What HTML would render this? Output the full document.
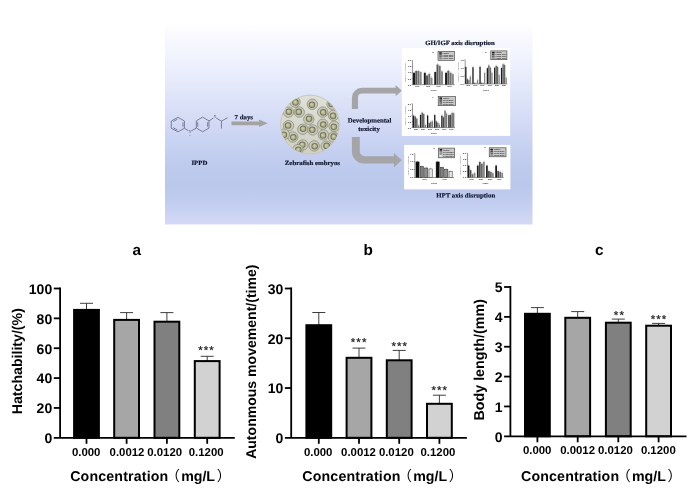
<!DOCTYPE html>
<html lang="en"><head><meta charset="utf-8"><title>IPPD developmental toxicity in zebrafish embryos</title>
<style>
html,body{margin:0;padding:0;background:#fff;}
body{width:692px;height:491px;overflow:hidden;}
svg{display:block;font-family:"Liberation Sans", "Noto Sans CJK SC", sans-serif;}
</style></head><body>
<svg width="692" height="491" viewBox="0 0 692 491">
<defs>
<linearGradient id="bg" x1="0" y1="0" x2="0" y2="1">
<stop offset="0" stop-color="#fefdff"/>
<stop offset="0.18" stop-color="#eff2fd"/>
<stop offset="0.35" stop-color="#dfe5f9"/>
<stop offset="0.55" stop-color="#ccd5f3"/>
<stop offset="0.72" stop-color="#bdcaed"/>
<stop offset="0.81" stop-color="#bac8ec"/>
<stop offset="0.9" stop-color="#c3cef0"/>
<stop offset="1" stop-color="#d5daf5"/>
</linearGradient>
<linearGradient id="dishg" x1="0" y1="0" x2="0" y2="1"><stop offset="0" stop-color="#dfe0d8"/><stop offset="1" stop-color="#cfd0c4"/></linearGradient>
<clipPath id="dishclip"><circle cx="310.0" cy="124.6" r="29.2"/></clipPath>

<filter id="soft" x="-2%" y="-2%" width="104%" height="104%"><feGaussianBlur stdDeviation="0.3"/></filter>
</defs>
<rect width="692" height="491" fill="#fff"/>
<g filter="url(#soft)">
<rect x="165.0" y="25.0" width="367.5" height="199.5" fill="url(#bg)"/>
<path d="M177.94 117.34 L184.41 120.98 L184.41 128.27 L177.94 131.81 L171.26 128.27 L171.26 120.98ZM182.97 122.35L182.97 126.89M177.40 129.95L173.23 127.74M173.23 121.50L177.40 119.22M202.62 117.14 L208.99 120.88 L208.99 128.06 L202.62 131.81 L196.35 128.06 L196.35 120.88ZM207.60 122.23L207.60 126.71M197.73 126.71L197.73 122.23M184.41 128.27L188.46 130.69M191.29 130.90L196.35 128.06M208.99 120.88L213.54 117.95M216.17 117.95L221.43 121.18M221.43 121.18L227.70 117.64M221.43 121.18L221.43 128.47" stroke="#6b6e84" stroke-width="0.85" fill="none" stroke-linejoin="round"/>
<text x="189.87" y="133.11" font-size="3.2" text-anchor="middle" fill="#5a5d72" font-family='"Liberation Serif", serif'>N</text>
<text x="189.87" y="135.51" font-size="2.6" text-anchor="middle" fill="#5a5d72" font-family='"Liberation Serif", serif'>H</text>
<text x="214.86" y="118.34" font-size="3.2" text-anchor="middle" fill="#5a5d72" font-family='"Liberation Serif", serif'>N</text>
<text x="214.86" y="115.74" font-size="2.6" text-anchor="middle" fill="#5a5d72" font-family='"Liberation Serif", serif'>H</text>
<path d="M231.5 121.5H259V119.6L267.7 123.3L259 127V125.2H231.5Z" fill="#a3a3a3"/>
<path d="M351.9 108.9V97.8a10 10 0 0 1 10 -10H395.6V85.1L401.8 90.7L395.6 96.3V93.6H362a4 4 0 0 0 -4 4V108.9Z" fill="#a5a5a8"/>
<path d="M351.9 136.9V151.6a12 12 0 0 0 12 12H393.9V167.5L401.6 160.2L393.9 152.9V156.3H364.8a5 5 0 0 1 -5 -5V136.9Z" fill="#a5a5a8"/>
<circle cx="310.0" cy="124.6" r="29.8" fill="url(#dishg)"/>
<circle cx="310.0" cy="124.6" r="29.400000000000002" fill="none" stroke="#c3c4b6" stroke-width="0.8"/>
<g clip-path="url(#dishclip)"><circle cx="294.96" cy="102.12" r="5.2" fill="#c8c9ba" stroke="#8e8f7b" stroke-width="0.8"/><circle cx="295.46" cy="102.42" r="3.3" fill="#74755b"/><circle cx="295.46" cy="102.42" r="2.3" fill="#b2b38a"/><circle cx="295.06" cy="102.02" r="1.2" fill="#cbcca6"/><circle cx="312.35" cy="104.26" r="5.2" fill="#c8c9ba" stroke="#8e8f7b" stroke-width="0.8"/><circle cx="311.95" cy="104.76" r="3.3" fill="#74755b"/><circle cx="311.95" cy="104.76" r="2.3" fill="#b2b38a"/><circle cx="311.55" cy="104.36" r="1.2" fill="#cbcca6"/><circle cx="288.54" cy="112.10" r="5.2" fill="#c8c9ba" stroke="#8e8f7b" stroke-width="0.8"/><circle cx="288.84" cy="111.70" r="3.3" fill="#74755b"/><circle cx="288.84" cy="111.70" r="2.3" fill="#b2b38a"/><circle cx="288.44" cy="111.30" r="1.2" fill="#cbcca6"/><circle cx="299.24" cy="112.10" r="5.2" fill="#c8c9ba" stroke="#8e8f7b" stroke-width="0.8"/><circle cx="298.74" cy="111.90" r="3.3" fill="#74755b"/><circle cx="298.74" cy="111.90" r="2.3" fill="#b2b38a"/><circle cx="298.34" cy="111.50" r="1.2" fill="#cbcca6"/><circle cx="322.76" cy="112.10" r="5.2" fill="#c8c9ba" stroke="#8e8f7b" stroke-width="0.8"/><circle cx="323.26" cy="112.40" r="3.3" fill="#74755b"/><circle cx="323.26" cy="112.40" r="2.3" fill="#b2b38a"/><circle cx="322.86" cy="112.00" r="1.2" fill="#cbcca6"/><circle cx="333.45" cy="115.38" r="5.2" fill="#c8c9ba" stroke="#8e8f7b" stroke-width="0.8"/><circle cx="333.05" cy="115.88" r="3.3" fill="#74755b"/><circle cx="333.05" cy="115.88" r="2.3" fill="#b2b38a"/><circle cx="332.65" cy="115.48" r="1.2" fill="#cbcca6"/><circle cx="308.79" cy="119.23" r="5.2" fill="#c8c9ba" stroke="#8e8f7b" stroke-width="0.8"/><circle cx="309.09" cy="118.83" r="3.3" fill="#74755b"/><circle cx="309.09" cy="118.83" r="2.3" fill="#b2b38a"/><circle cx="308.69" cy="118.43" r="1.2" fill="#cbcca6"/><circle cx="288.54" cy="125.64" r="5.2" fill="#c8c9ba" stroke="#8e8f7b" stroke-width="0.8"/><circle cx="288.04" cy="125.44" r="3.3" fill="#74755b"/><circle cx="288.04" cy="125.44" r="2.3" fill="#b2b38a"/><circle cx="287.64" cy="125.04" r="1.2" fill="#cbcca6"/><circle cx="322.76" cy="124.22" r="5.2" fill="#c8c9ba" stroke="#8e8f7b" stroke-width="0.8"/><circle cx="323.26" cy="124.52" r="3.3" fill="#74755b"/><circle cx="323.26" cy="124.52" r="2.3" fill="#b2b38a"/><circle cx="322.86" cy="124.12" r="1.2" fill="#cbcca6"/><circle cx="334.17" cy="126.36" r="5.2" fill="#c8c9ba" stroke="#8e8f7b" stroke-width="0.8"/><circle cx="333.77" cy="126.86" r="3.3" fill="#74755b"/><circle cx="333.77" cy="126.86" r="2.3" fill="#b2b38a"/><circle cx="333.37" cy="126.46" r="1.2" fill="#cbcca6"/><circle cx="302.80" cy="129.21" r="5.2" fill="#c8c9ba" stroke="#8e8f7b" stroke-width="0.8"/><circle cx="303.10" cy="128.81" r="3.3" fill="#74755b"/><circle cx="303.10" cy="128.81" r="2.3" fill="#b2b38a"/><circle cx="302.70" cy="128.41" r="1.2" fill="#cbcca6"/><circle cx="312.78" cy="129.92" r="5.2" fill="#c8c9ba" stroke="#8e8f7b" stroke-width="0.8"/><circle cx="312.28" cy="129.72" r="3.3" fill="#74755b"/><circle cx="312.28" cy="129.72" r="2.3" fill="#b2b38a"/><circle cx="311.88" cy="129.32" r="1.2" fill="#cbcca6"/><circle cx="292.82" cy="137.05" r="5.2" fill="#c8c9ba" stroke="#8e8f7b" stroke-width="0.8"/><circle cx="293.32" cy="137.35" r="3.3" fill="#74755b"/><circle cx="293.32" cy="137.35" r="2.3" fill="#b2b38a"/><circle cx="292.92" cy="136.95" r="1.2" fill="#cbcca6"/><circle cx="323.47" cy="134.91" r="5.2" fill="#c8c9ba" stroke="#8e8f7b" stroke-width="0.8"/><circle cx="323.07" cy="135.41" r="3.3" fill="#74755b"/><circle cx="323.07" cy="135.41" r="2.3" fill="#b2b38a"/><circle cx="322.67" cy="135.01" r="1.2" fill="#cbcca6"/><circle cx="333.45" cy="137.05" r="5.2" fill="#c8c9ba" stroke="#8e8f7b" stroke-width="0.8"/><circle cx="333.75" cy="136.65" r="3.3" fill="#74755b"/><circle cx="333.75" cy="136.65" r="2.3" fill="#b2b38a"/><circle cx="333.35" cy="136.25" r="1.2" fill="#cbcca6"/><circle cx="302.80" cy="144.89" r="5.2" fill="#c8c9ba" stroke="#8e8f7b" stroke-width="0.8"/><circle cx="302.30" cy="144.69" r="3.3" fill="#74755b"/><circle cx="302.30" cy="144.69" r="2.3" fill="#b2b38a"/><circle cx="301.90" cy="144.29" r="1.2" fill="#cbcca6"/><circle cx="314.21" cy="145.89" r="5.2" fill="#c8c9ba" stroke="#8e8f7b" stroke-width="0.8"/><circle cx="314.71" cy="146.19" r="3.3" fill="#74755b"/><circle cx="314.71" cy="146.19" r="2.3" fill="#b2b38a"/><circle cx="314.31" cy="145.79" r="1.2" fill="#cbcca6"/><circle cx="284.27" cy="134.20" r="5.2" fill="#c8c9ba" stroke="#8e8f7b" stroke-width="0.8"/><circle cx="283.87" cy="134.70" r="3.3" fill="#74755b"/><circle cx="283.87" cy="134.70" r="2.3" fill="#b2b38a"/><circle cx="283.47" cy="134.30" r="1.2" fill="#cbcca6"/><circle cx="326.33" cy="146.32" r="5.2" fill="#c8c9ba" stroke="#8e8f7b" stroke-width="0.8"/><circle cx="326.63" cy="145.92" r="3.3" fill="#74755b"/><circle cx="326.63" cy="145.92" r="2.3" fill="#b2b38a"/><circle cx="326.23" cy="145.52" r="1.2" fill="#cbcca6"/><circle cx="332.03" cy="104.26" r="5.2" fill="#c8c9ba" stroke="#8e8f7b" stroke-width="0.8"/><circle cx="331.53" cy="104.06" r="3.3" fill="#74755b"/><circle cx="331.53" cy="104.06" r="2.3" fill="#b2b38a"/><circle cx="331.13" cy="103.66" r="1.2" fill="#cbcca6"/><circle cx="297.81" cy="149.60" r="5.2" fill="#c8c9ba" stroke="#8e8f7b" stroke-width="0.8"/><circle cx="298.31" cy="149.90" r="3.3" fill="#74755b"/><circle cx="298.31" cy="149.90" r="2.3" fill="#b2b38a"/><circle cx="297.91" cy="149.50" r="1.2" fill="#cbcca6"/></g>
<rect x="401.8" y="48.0" width="108.4" height="87.9" fill="#fff"/>
<rect x="404.1" y="144.9" width="106.3" height="44.5" fill="#fff"/>
<g font-family='"Liberation Sans", "Noto Sans CJK SC", sans-serif'><path d="M412.50 60.40V84.70H454.70" stroke="#333" stroke-width="0.5" fill="none"/><path d="M411.50 60.40H412.50" stroke="#333" stroke-width="0.4"/><text x="411.20" y="61.30" font-size="2.5" font-weight="700" text-anchor="end" fill="#3a3a3a">2.0</text><path d="M411.50 66.47H412.50" stroke="#333" stroke-width="0.4"/><text x="411.20" y="67.38" font-size="2.5" font-weight="700" text-anchor="end" fill="#3a3a3a">1.5</text><path d="M411.50 72.55H412.50" stroke="#333" stroke-width="0.4"/><text x="411.20" y="73.45" font-size="2.5" font-weight="700" text-anchor="end" fill="#3a3a3a">1.0</text><path d="M411.50 78.62H412.50" stroke="#333" stroke-width="0.4"/><text x="411.20" y="79.53" font-size="2.5" font-weight="700" text-anchor="end" fill="#3a3a3a">0.5</text><path d="M411.50 84.70H412.50" stroke="#333" stroke-width="0.4"/><text x="411.20" y="85.60" font-size="2.5" font-weight="700" text-anchor="end" fill="#3a3a3a">0.0</text><rect x="413.00" y="72.75" width="2.00" height="11.95" fill="#1c1c1c" stroke="#1a1a1a" stroke-width="0"/><path d="M414.00 72.75v-1.3" stroke="#555" stroke-width="0.3"/><rect x="415.22" y="70.91" width="2.00" height="13.79" fill="#5a5a5a" stroke="#1a1a1a" stroke-width="0"/><path d="M416.22 70.91v-1.3" stroke="#555" stroke-width="0.3"/><rect x="417.44" y="70.91" width="2.00" height="13.79" fill="#707070" stroke="#1a1a1a" stroke-width="0"/><path d="M418.44 70.91v-1.3" stroke="#555" stroke-width="0.3"/><rect x="419.67" y="72.01" width="2.00" height="12.69" fill="#888888" stroke="#1a1a1a" stroke-width="0"/><path d="M420.67 72.01v-1.3" stroke="#555" stroke-width="0.3"/><text x="417.44" y="86.90" font-size="1.8" font-weight="700" text-anchor="middle" fill="#222">gene</text><rect x="423.81" y="72.75" width="2.00" height="11.95" fill="#1c1c1c" stroke="#1a1a1a" stroke-width="0"/><path d="M424.82 72.75v-1.3" stroke="#555" stroke-width="0.3"/><rect x="426.04" y="75.50" width="2.00" height="9.20" fill="#5a5a5a" stroke="#1a1a1a" stroke-width="0"/><path d="M427.04 75.50v-1.3" stroke="#555" stroke-width="0.3"/><rect x="428.26" y="73.85" width="2.00" height="10.85" fill="#707070" stroke="#1a1a1a" stroke-width="0"/><path d="M429.26 73.85v-1.3" stroke="#555" stroke-width="0.3"/><rect x="430.48" y="77.79" width="2.00" height="6.91" fill="#888888" stroke="#1a1a1a" stroke-width="0"/><path d="M431.48 77.79v-1.3" stroke="#555" stroke-width="0.3"/><text x="428.26" y="86.90" font-size="1.8" font-weight="700" text-anchor="middle" fill="#222">gene</text><rect x="434.26" y="72.01" width="2.00" height="12.69" fill="#1c1c1c" stroke="#1a1a1a" stroke-width="0"/><path d="M435.26 72.01v-1.3" stroke="#555" stroke-width="0.3"/><rect x="436.49" y="64.50" width="2.00" height="20.20" fill="#5a5a5a" stroke="#1a1a1a" stroke-width="0"/><path d="M437.49 64.50v-1.3" stroke="#555" stroke-width="0.3"/><rect x="438.71" y="65.87" width="2.00" height="18.83" fill="#707070" stroke="#1a1a1a" stroke-width="0"/><path d="M439.71 65.87v-1.3" stroke="#555" stroke-width="0.3"/><rect x="440.93" y="71.37" width="2.00" height="13.33" fill="#888888" stroke="#1a1a1a" stroke-width="0"/><path d="M441.93 71.37v-1.3" stroke="#555" stroke-width="0.3"/><text x="438.71" y="86.90" font-size="1.8" font-weight="700" text-anchor="middle" fill="#222">gene</text><rect x="445.08" y="72.75" width="2.02" height="11.95" fill="#1c1c1c" stroke="#1a1a1a" stroke-width="0"/><path d="M446.09 72.75v-1.3" stroke="#555" stroke-width="0.3"/><rect x="447.33" y="70.73" width="2.02" height="13.97" fill="#5a5a5a" stroke="#1a1a1a" stroke-width="0"/><path d="M448.34 70.73v-1.3" stroke="#555" stroke-width="0.3"/><rect x="449.57" y="72.75" width="2.02" height="11.95" fill="#707070" stroke="#1a1a1a" stroke-width="0"/><path d="M450.58 72.75v-1.3" stroke="#555" stroke-width="0.3"/><rect x="451.82" y="74.12" width="2.02" height="10.58" fill="#888888" stroke="#1a1a1a" stroke-width="0"/><path d="M452.83 74.12v-1.3" stroke="#555" stroke-width="0.3"/><text x="449.57" y="86.90" font-size="1.8" font-weight="700" text-anchor="middle" fill="#222">gene</text><rect x="438.00" y="51.30" width="16.40" height="9.00" fill="#c9c9c9" stroke="#3a3a3a" stroke-width="0.6"/><rect x="439.20" y="52.30" width="2.6" height="1.5" fill="#1c1c1c"/><text x="442.60" y="53.70" font-size="1.9" font-weight="700" fill="#333">control</text><rect x="439.20" y="54.15" width="2.6" height="1.5" fill="#5a5a5a"/><text x="442.60" y="55.55" font-size="1.9" font-weight="700" fill="#333">0.0012 mg/L</text><rect x="439.20" y="56.00" width="2.6" height="1.5" fill="#707070"/><text x="442.60" y="57.40" font-size="1.9" font-weight="700" fill="#333">0.0120 mg/L</text><rect x="439.20" y="57.85" width="2.6" height="1.5" fill="#888888"/><text x="442.60" y="59.25" font-size="1.9" font-weight="700" fill="#333">0.1200 mg/L</text><text x="433.00" y="52.50" font-size="2.4" font-weight="700" text-anchor="middle" fill="#333">a</text><text x="433.60" y="90.50" font-size="1.9" font-weight="700" text-anchor="middle" fill="#222">Genes</text><text transform="translate(406.30 72.55) rotate(-90)" font-size="1.7" text-anchor="middle" fill="#777">Relative mRNA expression</text><path d="M465.20 59.90V83.90H507.40" stroke="#333" stroke-width="0.5" fill="none"/><path d="M464.20 59.90H465.20" stroke="#333" stroke-width="0.4"/><text x="463.90" y="60.80" font-size="2.5" font-weight="700" text-anchor="end" fill="#3a3a3a">1.5</text><path d="M464.20 67.90H465.20" stroke="#333" stroke-width="0.4"/><text x="463.90" y="68.80" font-size="2.5" font-weight="700" text-anchor="end" fill="#3a3a3a">1.0</text><path d="M464.20 75.90H465.20" stroke="#333" stroke-width="0.4"/><text x="463.90" y="76.80" font-size="2.5" font-weight="700" text-anchor="end" fill="#3a3a3a">0.5</text><path d="M464.20 83.90H465.20" stroke="#333" stroke-width="0.4"/><text x="463.90" y="84.80" font-size="2.5" font-weight="700" text-anchor="end" fill="#3a3a3a">0.0</text><rect x="465.17" y="67.07" width="1.32" height="16.83" fill="#1c1c1c" stroke="#1a1a1a" stroke-width="0"/><path d="M465.83 67.07v-1.3" stroke="#555" stroke-width="0.3"/><rect x="466.70" y="79.16" width="1.32" height="4.74" fill="#4c4c4c" stroke="#1a1a1a" stroke-width="0"/><path d="M467.36 79.16v-1.3" stroke="#555" stroke-width="0.3"/><rect x="468.24" y="80.08" width="1.32" height="3.82" fill="#666666" stroke="#1a1a1a" stroke-width="0"/><path d="M468.90 80.08v-1.3" stroke="#555" stroke-width="0.3"/><rect x="469.77" y="76.41" width="1.32" height="7.49" fill="#868686" stroke="#1a1a1a" stroke-width="0"/><path d="M470.43 76.41v-1.3" stroke="#555" stroke-width="0.3"/><text x="468.24" y="86.10" font-size="1.8" font-weight="700" text-anchor="middle" fill="#222">gene</text><rect x="472.32" y="67.25" width="1.32" height="16.65" fill="#1c1c1c" stroke="#1a1a1a" stroke-width="0"/><path d="M472.98 67.25v-1.3" stroke="#555" stroke-width="0.3"/><rect x="473.85" y="83.29" width="1.32" height="0.61" fill="#4c4c4c" stroke="#1a1a1a" stroke-width="0"/><path d="M474.51 83.29v-1.3" stroke="#555" stroke-width="0.3"/><rect x="475.39" y="83.29" width="1.32" height="0.61" fill="#666666" stroke="#1a1a1a" stroke-width="0"/><path d="M476.05 83.29v-1.3" stroke="#555" stroke-width="0.3"/><rect x="476.92" y="80.08" width="1.32" height="3.82" fill="#868686" stroke="#1a1a1a" stroke-width="0"/><path d="M477.58 80.08v-1.3" stroke="#555" stroke-width="0.3"/><text x="475.39" y="86.10" font-size="1.8" font-weight="700" text-anchor="middle" fill="#222">gene</text><rect x="479.37" y="66.79" width="1.32" height="17.11" fill="#1c1c1c" stroke="#1a1a1a" stroke-width="0"/><path d="M480.03 66.79v-1.3" stroke="#555" stroke-width="0.3"/><rect x="480.91" y="82.83" width="1.32" height="1.07" fill="#4c4c4c" stroke="#1a1a1a" stroke-width="0"/><path d="M481.57 82.83v-1.3" stroke="#555" stroke-width="0.3"/><rect x="482.44" y="83.29" width="1.32" height="0.61" fill="#666666" stroke="#1a1a1a" stroke-width="0"/><path d="M483.10 83.29v-1.3" stroke="#555" stroke-width="0.3"/><rect x="483.98" y="72.75" width="1.32" height="11.15" fill="#868686" stroke="#1a1a1a" stroke-width="0"/><path d="M484.64 72.75v-1.3" stroke="#555" stroke-width="0.3"/><text x="482.44" y="86.10" font-size="1.8" font-weight="700" text-anchor="middle" fill="#222">gene</text><rect x="486.71" y="68.16" width="1.32" height="15.74" fill="#1c1c1c" stroke="#1a1a1a" stroke-width="0"/><path d="M487.37 68.16v-1.3" stroke="#555" stroke-width="0.3"/><rect x="488.24" y="65.42" width="1.32" height="18.48" fill="#4c4c4c" stroke="#1a1a1a" stroke-width="0"/><path d="M488.90 65.42v-1.3" stroke="#555" stroke-width="0.3"/><rect x="489.78" y="67.71" width="1.32" height="16.19" fill="#666666" stroke="#1a1a1a" stroke-width="0"/><path d="M490.44 67.71v-1.3" stroke="#555" stroke-width="0.3"/><rect x="491.31" y="72.75" width="1.32" height="11.15" fill="#868686" stroke="#1a1a1a" stroke-width="0"/><path d="M491.97 72.75v-1.3" stroke="#555" stroke-width="0.3"/><text x="489.78" y="86.10" font-size="1.8" font-weight="700" text-anchor="middle" fill="#222">gene</text><rect x="494.04" y="67.71" width="1.28" height="16.19" fill="#1c1c1c" stroke="#1a1a1a" stroke-width="0"/><path d="M494.68 67.71v-1.3" stroke="#555" stroke-width="0.3"/><rect x="495.53" y="65.87" width="1.28" height="18.03" fill="#4c4c4c" stroke="#1a1a1a" stroke-width="0"/><path d="M496.17 65.87v-1.3" stroke="#555" stroke-width="0.3"/><rect x="497.02" y="66.79" width="1.28" height="17.11" fill="#666666" stroke="#1a1a1a" stroke-width="0"/><path d="M497.66 66.79v-1.3" stroke="#555" stroke-width="0.3"/><rect x="498.51" y="75.04" width="1.28" height="8.86" fill="#868686" stroke="#1a1a1a" stroke-width="0"/><path d="M499.15 75.04v-1.3" stroke="#555" stroke-width="0.3"/><text x="497.02" y="86.10" font-size="1.8" font-weight="700" text-anchor="middle" fill="#222">gene</text><rect x="500.91" y="67.98" width="1.32" height="15.92" fill="#1c1c1c" stroke="#1a1a1a" stroke-width="0"/><path d="M501.57 67.98v-1.3" stroke="#555" stroke-width="0.3"/><rect x="502.45" y="64.32" width="1.32" height="19.58" fill="#4c4c4c" stroke="#1a1a1a" stroke-width="0"/><path d="M503.11 64.32v-1.3" stroke="#555" stroke-width="0.3"/><rect x="503.98" y="64.96" width="1.32" height="18.94" fill="#666666" stroke="#1a1a1a" stroke-width="0"/><path d="M504.64 64.96v-1.3" stroke="#555" stroke-width="0.3"/><rect x="505.52" y="77.79" width="1.32" height="6.11" fill="#868686" stroke="#1a1a1a" stroke-width="0"/><path d="M506.18 77.79v-1.3" stroke="#555" stroke-width="0.3"/><text x="503.98" y="86.10" font-size="1.8" font-weight="700" text-anchor="middle" fill="#222">gene</text><rect x="490.80" y="50.90" width="16.10" height="8.80" fill="#c9c9c9" stroke="#3a3a3a" stroke-width="0.6"/><rect x="492.00" y="51.90" width="2.6" height="1.5" fill="#1c1c1c"/><text x="495.40" y="53.30" font-size="1.9" font-weight="700" fill="#333">control</text><rect x="492.00" y="53.70" width="2.6" height="1.5" fill="#4c4c4c"/><text x="495.40" y="55.10" font-size="1.9" font-weight="700" fill="#333">0.0012 mg/L</text><rect x="492.00" y="55.50" width="2.6" height="1.5" fill="#666666"/><text x="495.40" y="56.90" font-size="1.9" font-weight="700" fill="#333">0.0120 mg/L</text><rect x="492.00" y="57.30" width="2.6" height="1.5" fill="#868686"/><text x="495.40" y="58.70" font-size="1.9" font-weight="700" fill="#333">0.1200 mg/L</text><text x="485.80" y="52.50" font-size="2.4" font-weight="700" text-anchor="middle" fill="#333">b</text><text x="485.80" y="90.50" font-size="1.9" font-weight="700" text-anchor="middle" fill="#222">Genes</text><text transform="translate(459.00 71.90) rotate(-90)" font-size="1.7" text-anchor="middle" fill="#777">Relative mRNA expression</text><path d="M412.50 103.70V127.60H455.00" stroke="#333" stroke-width="0.5" fill="none"/><path d="M411.50 103.70H412.50" stroke="#333" stroke-width="0.4"/><text x="411.20" y="104.60" font-size="2.5" font-weight="700" text-anchor="end" fill="#3a3a3a">2.0</text><path d="M411.50 109.67H412.50" stroke="#333" stroke-width="0.4"/><text x="411.20" y="110.58" font-size="2.5" font-weight="700" text-anchor="end" fill="#3a3a3a">1.5</text><path d="M411.50 115.65H412.50" stroke="#333" stroke-width="0.4"/><text x="411.20" y="116.55" font-size="2.5" font-weight="700" text-anchor="end" fill="#3a3a3a">1.0</text><path d="M411.50 121.62H412.50" stroke="#333" stroke-width="0.4"/><text x="411.20" y="122.53" font-size="2.5" font-weight="700" text-anchor="end" fill="#3a3a3a">0.5</text><path d="M411.50 127.60H412.50" stroke="#333" stroke-width="0.4"/><text x="411.20" y="128.50" font-size="2.5" font-weight="700" text-anchor="end" fill="#3a3a3a">0.0</text><rect x="412.82" y="115.65" width="1.42" height="11.95" fill="#1c1c1c" stroke="#1a1a1a" stroke-width="0"/><path d="M413.53 115.65v-1.3" stroke="#555" stroke-width="0.3"/><rect x="414.47" y="116.56" width="1.42" height="11.04" fill="#484848" stroke="#1a1a1a" stroke-width="0"/><path d="M415.18 116.56v-1.3" stroke="#555" stroke-width="0.3"/><rect x="416.12" y="118.58" width="1.42" height="9.02" fill="#5e5e5e" stroke="#1a1a1a" stroke-width="0"/><path d="M416.82 118.58v-1.3" stroke="#555" stroke-width="0.3"/><rect x="417.77" y="125.46" width="1.42" height="2.14" fill="#7a7a7a" stroke="#1a1a1a" stroke-width="0"/><path d="M418.47 125.46v-1.3" stroke="#555" stroke-width="0.3"/><text x="416.12" y="129.80" font-size="1.8" font-weight="700" text-anchor="middle" fill="#222">gene</text><rect x="419.87" y="114.91" width="1.38" height="12.69" fill="#1c1c1c" stroke="#1a1a1a" stroke-width="0"/><path d="M420.56 114.91v-1.3" stroke="#555" stroke-width="0.3"/><rect x="421.48" y="112.62" width="1.38" height="14.98" fill="#484848" stroke="#1a1a1a" stroke-width="0"/><path d="M422.17 112.62v-1.3" stroke="#555" stroke-width="0.3"/><rect x="423.08" y="114.00" width="1.38" height="13.60" fill="#5e5e5e" stroke="#1a1a1a" stroke-width="0"/><path d="M423.77 114.00v-1.3" stroke="#555" stroke-width="0.3"/><rect x="424.69" y="125.00" width="1.38" height="2.60" fill="#7a7a7a" stroke="#1a1a1a" stroke-width="0"/><path d="M425.38 125.00v-1.3" stroke="#555" stroke-width="0.3"/><text x="423.08" y="129.80" font-size="1.8" font-weight="700" text-anchor="middle" fill="#222">gene</text><rect x="426.93" y="115.37" width="1.38" height="12.23" fill="#1c1c1c" stroke="#1a1a1a" stroke-width="0"/><path d="M427.62 115.37v-1.3" stroke="#555" stroke-width="0.3"/><rect x="428.54" y="123.16" width="1.38" height="4.44" fill="#484848" stroke="#1a1a1a" stroke-width="0"/><path d="M429.23 123.16v-1.3" stroke="#555" stroke-width="0.3"/><rect x="430.14" y="121.79" width="1.38" height="5.81" fill="#5e5e5e" stroke="#1a1a1a" stroke-width="0"/><path d="M430.83 121.79v-1.3" stroke="#555" stroke-width="0.3"/><rect x="431.74" y="121.33" width="1.38" height="6.27" fill="#7a7a7a" stroke="#1a1a1a" stroke-width="0"/><path d="M432.43 121.33v-1.3" stroke="#555" stroke-width="0.3"/><text x="430.14" y="129.80" font-size="1.8" font-weight="700" text-anchor="middle" fill="#222">gene</text><rect x="434.08" y="114.91" width="1.34" height="12.69" fill="#1c1c1c" stroke="#1a1a1a" stroke-width="0"/><path d="M434.75 114.91v-1.3" stroke="#555" stroke-width="0.3"/><rect x="435.64" y="121.33" width="1.34" height="6.27" fill="#484848" stroke="#1a1a1a" stroke-width="0"/><path d="M436.31 121.33v-1.3" stroke="#555" stroke-width="0.3"/><rect x="437.20" y="122.71" width="1.34" height="4.89" fill="#5e5e5e" stroke="#1a1a1a" stroke-width="0"/><path d="M437.87 122.71v-1.3" stroke="#555" stroke-width="0.3"/><rect x="438.76" y="124.54" width="1.34" height="3.06" fill="#7a7a7a" stroke="#1a1a1a" stroke-width="0"/><path d="M439.43 124.54v-1.3" stroke="#555" stroke-width="0.3"/><text x="437.20" y="129.80" font-size="1.8" font-weight="700" text-anchor="middle" fill="#222">gene</text><rect x="441.23" y="115.65" width="1.34" height="11.95" fill="#1c1c1c" stroke="#1a1a1a" stroke-width="0"/><path d="M441.90 115.65v-1.3" stroke="#555" stroke-width="0.3"/><rect x="442.79" y="117.21" width="1.34" height="10.39" fill="#484848" stroke="#1a1a1a" stroke-width="0"/><path d="M443.46 117.21v-1.3" stroke="#555" stroke-width="0.3"/><rect x="444.35" y="110.79" width="1.34" height="16.81" fill="#5e5e5e" stroke="#1a1a1a" stroke-width="0"/><path d="M445.02 110.79v-1.3" stroke="#555" stroke-width="0.3"/><rect x="445.90" y="113.54" width="1.34" height="14.06" fill="#7a7a7a" stroke="#1a1a1a" stroke-width="0"/><path d="M446.57 113.54v-1.3" stroke="#555" stroke-width="0.3"/><text x="444.35" y="129.80" font-size="1.8" font-weight="700" text-anchor="middle" fill="#222">gene</text><rect x="448.29" y="115.10" width="1.36" height="12.50" fill="#1c1c1c" stroke="#1a1a1a" stroke-width="0"/><path d="M448.97 115.10v-1.3" stroke="#555" stroke-width="0.3"/><rect x="449.87" y="114.91" width="1.36" height="12.69" fill="#484848" stroke="#1a1a1a" stroke-width="0"/><path d="M450.55 114.91v-1.3" stroke="#555" stroke-width="0.3"/><rect x="451.45" y="112.90" width="1.36" height="14.70" fill="#5e5e5e" stroke="#1a1a1a" stroke-width="0"/><path d="M452.13 112.90v-1.3" stroke="#555" stroke-width="0.3"/><rect x="453.03" y="113.08" width="1.36" height="14.52" fill="#7a7a7a" stroke="#1a1a1a" stroke-width="0"/><path d="M453.71 113.08v-1.3" stroke="#555" stroke-width="0.3"/><text x="451.45" y="129.80" font-size="1.8" font-weight="700" text-anchor="middle" fill="#222">gene</text><rect x="438.20" y="96.40" width="17.40" height="9.30" fill="#c9c9c9" stroke="#3a3a3a" stroke-width="0.6"/><rect x="439.40" y="97.40" width="2.6" height="1.5" fill="#1c1c1c"/><text x="442.80" y="98.80" font-size="1.9" font-weight="700" fill="#333">control</text><rect x="439.40" y="99.33" width="2.6" height="1.5" fill="#484848"/><text x="442.80" y="100.73" font-size="1.9" font-weight="700" fill="#333">0.0012 mg/L</text><rect x="439.40" y="101.25" width="2.6" height="1.5" fill="#5e5e5e"/><text x="442.80" y="102.65" font-size="1.9" font-weight="700" fill="#333">0.0120 mg/L</text><rect x="439.40" y="103.18" width="2.6" height="1.5" fill="#7a7a7a"/><text x="442.80" y="104.58" font-size="1.9" font-weight="700" fill="#333">0.1200 mg/L</text><text x="433.00" y="98.10" font-size="2.4" font-weight="700" text-anchor="middle" fill="#333">c</text><text x="433.60" y="134.00" font-size="1.9" font-weight="700" text-anchor="middle" fill="#222">Genes</text><text transform="translate(406.30 115.65) rotate(-90)" font-size="1.7" text-anchor="middle" fill="#777">Relative mRNA expression</text><path d="M414.80 153.60V177.50H454.00" stroke="#333" stroke-width="0.5" fill="none"/><path d="M413.80 153.60H414.80" stroke="#333" stroke-width="0.4"/><text x="413.50" y="154.50" font-size="2.5" font-weight="700" text-anchor="end" fill="#3a3a3a">1.5</text><path d="M413.80 161.57H414.80" stroke="#333" stroke-width="0.4"/><text x="413.50" y="162.47" font-size="2.5" font-weight="700" text-anchor="end" fill="#3a3a3a">1.0</text><path d="M413.80 169.53H414.80" stroke="#333" stroke-width="0.4"/><text x="413.50" y="170.43" font-size="2.5" font-weight="700" text-anchor="end" fill="#3a3a3a">0.5</text><path d="M413.80 177.50H414.80" stroke="#333" stroke-width="0.4"/><text x="413.50" y="178.40" font-size="2.5" font-weight="700" text-anchor="end" fill="#3a3a3a">0.0</text><rect x="415.92" y="161.87" width="3.22" height="15.63" fill="#0a0a0a" stroke="#1a1a1a" stroke-width="0.45"/><path d="M417.53 161.87v-1.3" stroke="#555" stroke-width="0.3"/><rect x="420.27" y="166.46" width="3.22" height="11.04" fill="#7e7e7e" stroke="#1a1a1a" stroke-width="0.45"/><path d="M421.88 166.46v-1.3" stroke="#555" stroke-width="0.3"/><rect x="424.62" y="168.01" width="3.22" height="9.49" fill="#8e8e8e" stroke="#1a1a1a" stroke-width="0.45"/><path d="M426.23 168.01v-1.3" stroke="#555" stroke-width="0.3"/><rect x="428.98" y="168.93" width="3.22" height="8.57" fill="#e6e6e6" stroke="#1a1a1a" stroke-width="0.45"/><path d="M430.59 168.93v-1.3" stroke="#555" stroke-width="0.3"/><text x="424.62" y="179.70" font-size="1.8" font-weight="700" text-anchor="middle" fill="#222">gene</text><rect x="436.08" y="161.87" width="3.19" height="15.63" fill="#0a0a0a" stroke="#1a1a1a" stroke-width="0.45"/><path d="M437.67 161.87v-1.3" stroke="#555" stroke-width="0.3"/><rect x="440.39" y="167.37" width="3.19" height="10.13" fill="#7e7e7e" stroke="#1a1a1a" stroke-width="0.45"/><path d="M441.98 167.37v-1.3" stroke="#555" stroke-width="0.3"/><rect x="444.70" y="169.21" width="3.19" height="8.29" fill="#8e8e8e" stroke="#1a1a1a" stroke-width="0.45"/><path d="M446.29 169.21v-1.3" stroke="#555" stroke-width="0.3"/><rect x="449.00" y="171.50" width="3.19" height="6.00" fill="#e6e6e6" stroke="#1a1a1a" stroke-width="0.45"/><path d="M450.60 171.50v-1.3" stroke="#555" stroke-width="0.3"/><text x="444.70" y="179.70" font-size="1.8" font-weight="700" text-anchor="middle" fill="#222">gene</text><rect x="438.40" y="148.10" width="16.30" height="9.70" fill="#c9c9c9" stroke="#3a3a3a" stroke-width="0.6"/><rect x="439.60" y="149.10" width="2.6" height="1.5" fill="#0a0a0a"/><text x="443.00" y="150.50" font-size="1.9" font-weight="700" fill="#333">control</text><rect x="439.60" y="151.12" width="2.6" height="1.5" fill="#7e7e7e"/><text x="443.00" y="152.53" font-size="1.9" font-weight="700" fill="#333">0.0012 mg/L</text><rect x="439.60" y="153.15" width="2.6" height="1.5" fill="#8e8e8e"/><text x="443.00" y="154.55" font-size="1.9" font-weight="700" fill="#333">0.0120 mg/L</text><rect x="439.60" y="155.18" width="2.6" height="1.5" fill="#e6e6e6"/><text x="443.00" y="156.58" font-size="1.9" font-weight="700" fill="#333">0.1200 mg/L</text><text x="433.90" y="148.60" font-size="2.4" font-weight="700" text-anchor="middle" fill="#333">a</text><text x="433.90" y="184.10" font-size="1.9" font-weight="700" text-anchor="middle" fill="#222">Genes</text><text transform="translate(408.60 165.55) rotate(-90)" font-size="1.7" text-anchor="middle" fill="#777">Relative mRNA expression</text><path d="M467.50 153.20V177.50H503.70" stroke="#333" stroke-width="0.5" fill="none"/><path d="M466.50 153.20H467.50" stroke="#333" stroke-width="0.4"/><text x="466.20" y="154.10" font-size="2.5" font-weight="700" text-anchor="end" fill="#3a3a3a">2.0</text><path d="M466.50 159.27H467.50" stroke="#333" stroke-width="0.4"/><text x="466.20" y="160.17" font-size="2.5" font-weight="700" text-anchor="end" fill="#3a3a3a">1.5</text><path d="M466.50 165.35H467.50" stroke="#333" stroke-width="0.4"/><text x="466.20" y="166.25" font-size="2.5" font-weight="700" text-anchor="end" fill="#3a3a3a">1.0</text><path d="M466.50 171.43H467.50" stroke="#333" stroke-width="0.4"/><text x="466.20" y="172.33" font-size="2.5" font-weight="700" text-anchor="end" fill="#3a3a3a">0.5</text><path d="M466.50 177.50H467.50" stroke="#333" stroke-width="0.4"/><text x="466.20" y="178.40" font-size="2.5" font-weight="700" text-anchor="end" fill="#3a3a3a">0.0</text><rect x="467.73" y="165.54" width="1.71" height="11.96" fill="#1c1c1c" stroke="#1a1a1a" stroke-width="0"/><path d="M468.59 165.54v-1.3" stroke="#555" stroke-width="0.3"/><rect x="469.73" y="170.12" width="1.71" height="7.38" fill="#4c4c4c" stroke="#1a1a1a" stroke-width="0"/><path d="M470.58 170.12v-1.3" stroke="#555" stroke-width="0.3"/><rect x="471.72" y="174.25" width="1.71" height="3.25" fill="#666666" stroke="#1a1a1a" stroke-width="0"/><path d="M472.58 174.25v-1.3" stroke="#555" stroke-width="0.3"/><rect x="473.71" y="172.87" width="1.71" height="4.63" fill="#868686" stroke="#1a1a1a" stroke-width="0"/><path d="M474.57 172.87v-1.3" stroke="#555" stroke-width="0.3"/><text x="471.72" y="179.70" font-size="1.8" font-weight="700" text-anchor="middle" fill="#222">gene</text><rect x="476.90" y="165.54" width="1.75" height="11.96" fill="#1c1c1c" stroke="#1a1a1a" stroke-width="0"/><path d="M477.78 165.54v-1.3" stroke="#555" stroke-width="0.3"/><rect x="478.94" y="161.87" width="1.75" height="15.63" fill="#4c4c4c" stroke="#1a1a1a" stroke-width="0"/><path d="M479.81 161.87v-1.3" stroke="#555" stroke-width="0.3"/><rect x="480.98" y="163.71" width="1.75" height="13.79" fill="#666666" stroke="#1a1a1a" stroke-width="0"/><path d="M481.85 163.71v-1.3" stroke="#555" stroke-width="0.3"/><rect x="483.02" y="161.87" width="1.75" height="15.63" fill="#868686" stroke="#1a1a1a" stroke-width="0"/><path d="M483.89 161.87v-1.3" stroke="#555" stroke-width="0.3"/><text x="480.98" y="179.70" font-size="1.8" font-weight="700" text-anchor="middle" fill="#222">gene</text><rect x="486.06" y="165.54" width="1.71" height="11.96" fill="#1c1c1c" stroke="#1a1a1a" stroke-width="0"/><path d="M486.92 165.54v-1.3" stroke="#555" stroke-width="0.3"/><rect x="488.06" y="171.04" width="1.71" height="6.46" fill="#4c4c4c" stroke="#1a1a1a" stroke-width="0"/><path d="M488.91 171.04v-1.3" stroke="#555" stroke-width="0.3"/><rect x="490.05" y="171.96" width="1.71" height="5.54" fill="#666666" stroke="#1a1a1a" stroke-width="0"/><path d="M490.91 171.96v-1.3" stroke="#555" stroke-width="0.3"/><rect x="492.04" y="173.15" width="1.71" height="4.35" fill="#868686" stroke="#1a1a1a" stroke-width="0"/><path d="M492.90 173.15v-1.3" stroke="#555" stroke-width="0.3"/><text x="490.05" y="179.70" font-size="1.8" font-weight="700" text-anchor="middle" fill="#222">gene</text><rect x="495.23" y="165.54" width="1.75" height="11.96" fill="#1c1c1c" stroke="#1a1a1a" stroke-width="0"/><path d="M496.11 165.54v-1.3" stroke="#555" stroke-width="0.3"/><rect x="497.27" y="171.04" width="1.75" height="6.46" fill="#4c4c4c" stroke="#1a1a1a" stroke-width="0"/><path d="M498.15 171.04v-1.3" stroke="#555" stroke-width="0.3"/><rect x="499.31" y="171.96" width="1.75" height="5.54" fill="#666666" stroke="#1a1a1a" stroke-width="0"/><path d="M500.19 171.96v-1.3" stroke="#555" stroke-width="0.3"/><rect x="501.35" y="172.87" width="1.75" height="4.63" fill="#868686" stroke="#1a1a1a" stroke-width="0"/><path d="M502.23 172.87v-1.3" stroke="#555" stroke-width="0.3"/><text x="499.31" y="179.70" font-size="1.8" font-weight="700" text-anchor="middle" fill="#222">gene</text><rect x="489.20" y="147.80" width="16.80" height="9.00" fill="#c9c9c9" stroke="#3a3a3a" stroke-width="0.6"/><rect x="490.40" y="148.80" width="2.6" height="1.5" fill="#1c1c1c"/><text x="493.80" y="150.20" font-size="1.9" font-weight="700" fill="#333">control</text><rect x="490.40" y="150.65" width="2.6" height="1.5" fill="#4c4c4c"/><text x="493.80" y="152.05" font-size="1.9" font-weight="700" fill="#333">0.0012 mg/L</text><rect x="490.40" y="152.50" width="2.6" height="1.5" fill="#666666"/><text x="493.80" y="153.90" font-size="1.9" font-weight="700" fill="#333">0.0120 mg/L</text><rect x="490.40" y="154.35" width="2.6" height="1.5" fill="#868686"/><text x="493.80" y="155.75" font-size="1.9" font-weight="700" fill="#333">0.1200 mg/L</text><text x="485.10" y="148.30" font-size="2.4" font-weight="700" text-anchor="middle" fill="#333">b</text><text x="485.30" y="184.20" font-size="1.9" font-weight="700" text-anchor="middle" fill="#222">Genes</text><text transform="translate(461.30 165.35) rotate(-90)" font-size="1.7" text-anchor="middle" fill="#777">Relative mRNA expression</text></g>
</g>
<g>
<text transform="translate(199.40 165.10) rotate(0.04) scale(0.1250 0.1175)" font-size="54.8" font-weight="700" text-anchor="middle" fill="#10152e" stroke="#10152e" stroke-width="1.60" font-family='"Liberation Serif", serif'>IPPD</text>
<text transform="translate(243.80 119.30) rotate(0.04) scale(0.1250 0.1175)" font-size="54.8" font-weight="700" text-anchor="middle" fill="#10152e" stroke="#10152e" stroke-width="1.60" font-family='"Liberation Serif", serif'>7 days</text>
<text transform="translate(312.40 164.90) rotate(0.04) scale(0.1250 0.1175)" font-size="54.8" font-weight="700" text-anchor="middle" fill="#10152e" stroke="#10152e" stroke-width="1.60" font-family='"Liberation Serif", serif'>Zebrafish embryos</text>
<text transform="translate(369.60 122.50) rotate(0.04) scale(0.1250 0.1175)" font-size="54.8" font-weight="700" text-anchor="middle" fill="#10152e" stroke="#10152e" stroke-width="1.60" font-family='"Liberation Serif", serif'>Developmental</text>
<text transform="translate(369.00 131.00) rotate(0.04) scale(0.1250 0.1175)" font-size="54.8" font-weight="700" text-anchor="middle" fill="#10152e" stroke="#10152e" stroke-width="1.60" font-family='"Liberation Serif", serif'>toxicity</text>
<text transform="translate(460.00 45.00) rotate(0.04) scale(0.1250 0.1175)" font-size="54.8" font-weight="700" text-anchor="middle" fill="#10152e" stroke="#10152e" stroke-width="1.60" font-family='"Liberation Serif", serif'>GH/IGF axis disruption</text>
<text transform="translate(465.70 197.60) rotate(0.04) scale(0.1250 0.1175)" font-size="54.8" font-weight="700" text-anchor="middle" fill="#10152e" stroke="#10152e" stroke-width="1.60" font-family='"Liberation Serif", serif'>HPT axis disruption</text>
</g>
<g fill="#000" text-rendering="geometricPrecision">
<path d="M86.50 309.90V303.30M80.00 303.30H93.00" stroke="#2a2a2a" stroke-width="0.9" fill="none"/>
<rect x="74.10" y="309.90" width="24.80" height="127.90" fill="#000" stroke="#000" stroke-width="2.0"/>
<path d="M126.60 319.90V312.60M120.10 312.60H133.10" stroke="#2a2a2a" stroke-width="0.9" fill="none"/>
<rect x="114.20" y="319.90" width="24.80" height="117.90" fill="#a6a6a6" stroke="#000" stroke-width="2.0"/>
<path d="M166.90 321.70V312.60M160.40 312.60H173.40" stroke="#2a2a2a" stroke-width="0.9" fill="none"/>
<rect x="154.50" y="321.70" width="24.80" height="116.10" fill="#808080" stroke="#000" stroke-width="2.0"/>
<path d="M207.20 361.10V356.30M200.70 356.30H213.70" stroke="#2a2a2a" stroke-width="0.9" fill="none"/>
<rect x="194.80" y="361.10" width="24.80" height="76.70" fill="#d2d2d2" stroke="#000" stroke-width="2.0"/>
<path d="M60.10 287.60V437.80M53.80 437.80H234.80" stroke="#000" stroke-width="1.8" fill="none"/>
<path d="M53.80 288.50H60.10" stroke="#000" stroke-width="1.8"/>
<text x="52.20" y="293.90" text-anchor="end" font-size="14" font-weight="700">100</text>
<path d="M53.80 318.36H60.10" stroke="#000" stroke-width="1.8"/>
<text x="52.20" y="323.76" text-anchor="end" font-size="14" font-weight="700">80</text>
<path d="M53.80 348.22H60.10" stroke="#000" stroke-width="1.8"/>
<text x="52.20" y="353.62" text-anchor="end" font-size="14" font-weight="700">60</text>
<path d="M53.80 378.08H60.10" stroke="#000" stroke-width="1.8"/>
<text x="52.20" y="383.48" text-anchor="end" font-size="14" font-weight="700">40</text>
<path d="M53.80 407.94H60.10" stroke="#000" stroke-width="1.8"/>
<text x="52.20" y="413.34" text-anchor="end" font-size="14" font-weight="700">20</text>
<text x="52.20" y="443.20" text-anchor="end" font-size="14" font-weight="700">0</text>
<path d="M86.50 437.80V443.80" stroke="#000" stroke-width="1.8"/>
<path d="M126.60 437.80V443.80" stroke="#000" stroke-width="1.8"/>
<path d="M166.90 437.80V443.80" stroke="#000" stroke-width="1.8"/>
<path d="M207.20 437.80V443.80" stroke="#000" stroke-width="1.8"/>
<text x="86.20" y="455.80" text-anchor="middle" font-size="11.4" font-weight="700">0.000</text>
<text x="127.00" y="455.80" text-anchor="middle" font-size="11.4" font-weight="700">0.0012</text>
<text x="164.70" y="455.80" text-anchor="middle" font-size="11.4" font-weight="700">0.0120</text>
<text x="206.20" y="455.80" text-anchor="middle" font-size="11.4" font-weight="700">0.1200</text>
<text x="206.55" y="353.90" text-anchor="middle" font-size="11.5" letter-spacing="1.1" fill="#1a1a1a" stroke="#1a1a1a" stroke-width="0.2">***</text>
<text x="136.70" y="255.30" text-anchor="middle" font-size="15.3" font-weight="700">a</text>
<text transform="translate(22.00 361.20) rotate(-90)" text-anchor="middle" font-size="14.15" font-weight="700">Hatchability/(%)</text>
<text x="70.20" y="481.40" font-size="14.2" font-weight="700"><tspan letter-spacing="0.16">Concentration</tspan><tspan font-weight="400" dx="-2.8">（</tspan><tspan dx="1.3">mg/L</tspan><tspan font-weight="400" dx="1.6">）</tspan></text>
<path d="M318.80 325.20V312.50M312.30 312.50H325.30" stroke="#2a2a2a" stroke-width="0.9" fill="none"/>
<rect x="306.40" y="325.20" width="24.80" height="112.60" fill="#000" stroke="#000" stroke-width="2.0"/>
<path d="M359.00 357.80V348.10M352.50 348.10H365.50" stroke="#2a2a2a" stroke-width="0.9" fill="none"/>
<rect x="346.60" y="357.80" width="24.80" height="80.00" fill="#a6a6a6" stroke="#000" stroke-width="2.0"/>
<path d="M399.20 360.30V350.40M392.70 350.40H405.70" stroke="#2a2a2a" stroke-width="0.9" fill="none"/>
<rect x="386.80" y="360.30" width="24.80" height="77.50" fill="#808080" stroke="#000" stroke-width="2.0"/>
<path d="M439.40 403.80V395.20M432.90 395.20H445.90" stroke="#2a2a2a" stroke-width="0.9" fill="none"/>
<rect x="427.00" y="403.80" width="24.80" height="34.00" fill="#d2d2d2" stroke="#000" stroke-width="2.0"/>
<path d="M291.20 287.60V437.80M284.90 437.80H466.90" stroke="#000" stroke-width="1.8" fill="none"/>
<path d="M284.90 288.50H291.20" stroke="#000" stroke-width="1.8"/>
<text x="283.30" y="293.90" text-anchor="end" font-size="14" font-weight="700">30</text>
<path d="M284.90 338.27H291.20" stroke="#000" stroke-width="1.8"/>
<text x="283.30" y="343.67" text-anchor="end" font-size="14" font-weight="700">20</text>
<path d="M284.90 388.03H291.20" stroke="#000" stroke-width="1.8"/>
<text x="283.30" y="393.43" text-anchor="end" font-size="14" font-weight="700">10</text>
<text x="283.30" y="443.20" text-anchor="end" font-size="14" font-weight="700">0</text>
<path d="M318.80 437.80V443.80" stroke="#000" stroke-width="1.8"/>
<path d="M359.00 437.80V443.80" stroke="#000" stroke-width="1.8"/>
<path d="M399.20 437.80V443.80" stroke="#000" stroke-width="1.8"/>
<path d="M439.40 437.80V443.80" stroke="#000" stroke-width="1.8"/>
<text x="318.20" y="455.80" text-anchor="middle" font-size="11.4" font-weight="700">0.000</text>
<text x="358.50" y="455.80" text-anchor="middle" font-size="11.4" font-weight="700">0.0012</text>
<text x="396.30" y="455.80" text-anchor="middle" font-size="11.4" font-weight="700">0.0120</text>
<text x="437.90" y="455.80" text-anchor="middle" font-size="11.4" font-weight="700">0.1200</text>
<text x="359.15" y="346.30" text-anchor="middle" font-size="11.5" letter-spacing="1.1" fill="#1a1a1a" stroke="#1a1a1a" stroke-width="0.2">***</text>
<text x="399.75" y="349.50" text-anchor="middle" font-size="11.5" letter-spacing="1.1" fill="#1a1a1a" stroke="#1a1a1a" stroke-width="0.2">***</text>
<text x="439.85" y="394.00" text-anchor="middle" font-size="11.5" letter-spacing="1.1" fill="#1a1a1a" stroke="#1a1a1a" stroke-width="0.2">***</text>
<text x="368.20" y="255.40" text-anchor="middle" font-size="15.3" font-weight="700">b</text>
<text transform="translate(255.80 361.70) rotate(-90)" text-anchor="middle" font-size="14.05" font-weight="700">Autonmous movement/(time)</text>
<text x="302.30" y="481.40" font-size="14.2" font-weight="700"><tspan letter-spacing="0.16">Concentration</tspan><tspan font-weight="400" dx="-2.8">（</tspan><tspan dx="1.3">mg/L</tspan><tspan font-weight="400" dx="1.6">）</tspan></text>
<path d="M537.40 313.80V307.60M530.90 307.60H543.90" stroke="#2a2a2a" stroke-width="0.9" fill="none"/>
<rect x="525.00" y="313.80" width="24.80" height="122.50" fill="#000" stroke="#000" stroke-width="2.0"/>
<path d="M577.70 317.80V311.60M571.20 311.60H584.20" stroke="#2a2a2a" stroke-width="0.9" fill="none"/>
<rect x="565.30" y="317.80" width="24.80" height="118.50" fill="#a6a6a6" stroke="#000" stroke-width="2.0"/>
<path d="M618.30 322.70V319.10M611.80 319.10H624.80" stroke="#2a2a2a" stroke-width="0.9" fill="none"/>
<rect x="605.90" y="322.70" width="24.80" height="113.60" fill="#808080" stroke="#000" stroke-width="2.0"/>
<path d="M658.60 325.70V323.40M652.10 323.40H665.10" stroke="#2a2a2a" stroke-width="0.9" fill="none"/>
<rect x="646.20" y="325.70" width="24.80" height="110.60" fill="#d2d2d2" stroke="#000" stroke-width="2.0"/>
<path d="M510.40 286.10V436.30M504.10 436.30H686.50" stroke="#000" stroke-width="1.8" fill="none"/>
<path d="M504.10 287.00H510.40" stroke="#000" stroke-width="1.8"/>
<text x="502.50" y="292.40" text-anchor="end" font-size="14" font-weight="700">5</text>
<path d="M504.10 316.86H510.40" stroke="#000" stroke-width="1.8"/>
<text x="502.50" y="322.26" text-anchor="end" font-size="14" font-weight="700">4</text>
<path d="M504.10 346.72H510.40" stroke="#000" stroke-width="1.8"/>
<text x="502.50" y="352.12" text-anchor="end" font-size="14" font-weight="700">3</text>
<path d="M504.10 376.58H510.40" stroke="#000" stroke-width="1.8"/>
<text x="502.50" y="381.98" text-anchor="end" font-size="14" font-weight="700">2</text>
<path d="M504.10 406.44H510.40" stroke="#000" stroke-width="1.8"/>
<text x="502.50" y="411.84" text-anchor="end" font-size="14" font-weight="700">1</text>
<text x="502.50" y="441.70" text-anchor="end" font-size="14" font-weight="700">0</text>
<path d="M537.40 436.30V442.30" stroke="#000" stroke-width="1.8"/>
<path d="M577.70 436.30V442.30" stroke="#000" stroke-width="1.8"/>
<path d="M618.30 436.30V442.30" stroke="#000" stroke-width="1.8"/>
<path d="M658.60 436.30V442.30" stroke="#000" stroke-width="1.8"/>
<text x="537.20" y="454.40" text-anchor="middle" font-size="11.4" font-weight="700">0.000</text>
<text x="577.60" y="454.40" text-anchor="middle" font-size="11.4" font-weight="700">0.0012</text>
<text x="615.40" y="454.40" text-anchor="middle" font-size="11.4" font-weight="700">0.0120</text>
<text x="658.30" y="454.40" text-anchor="middle" font-size="11.4" font-weight="700">0.1200</text>
<text x="619.45" y="318.90" text-anchor="middle" font-size="11.5" letter-spacing="1.1" fill="#1a1a1a" stroke="#1a1a1a" stroke-width="0.2">**</text>
<text x="659.05" y="322.70" text-anchor="middle" font-size="11.5" letter-spacing="1.1" fill="#1a1a1a" stroke="#1a1a1a" stroke-width="0.2">***</text>
<text x="599.20" y="255.30" text-anchor="middle" font-size="15.3" font-weight="700">c</text>
<text transform="translate(483.50 359.80) rotate(-90)" text-anchor="middle" font-size="14.3" font-weight="700">Body length/(mm)</text>
<text x="521.00" y="480.60" font-size="14.2" font-weight="700"><tspan letter-spacing="0.16">Concentration</tspan><tspan font-weight="400" dx="-2.8">（</tspan><tspan dx="1.3">mg/L</tspan><tspan font-weight="400" dx="1.6">）</tspan></text>
</g>
</svg>
</body></html>
